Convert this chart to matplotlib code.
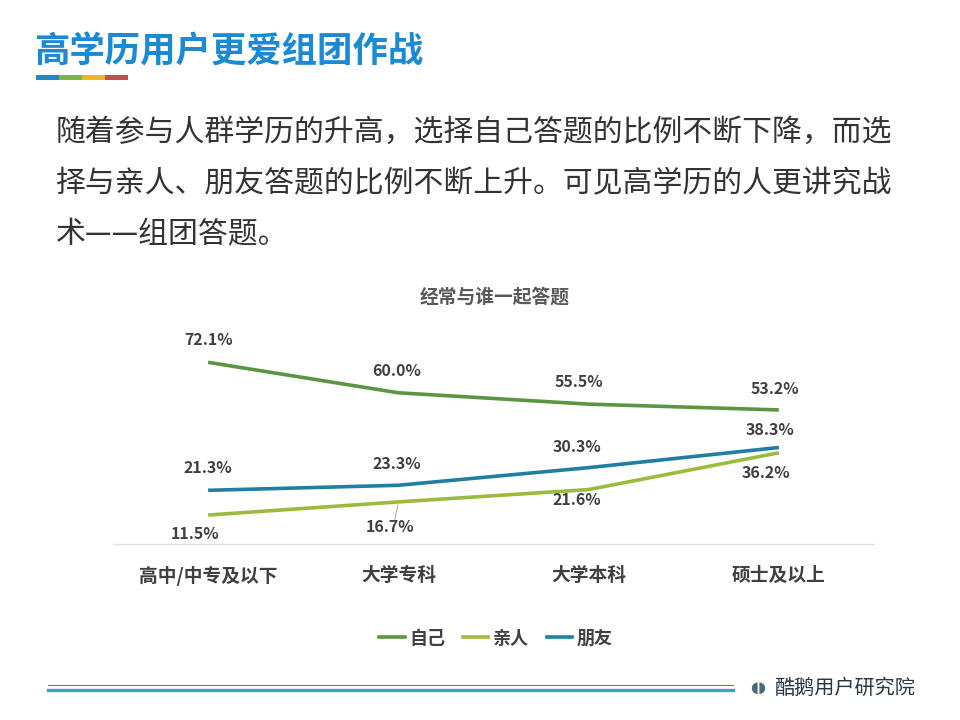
import matplotlib.pyplot as plt
from matplotlib.patches import Rectangle
from matplotlib.lines import Line2D

plt.rcParams['font.family'] = ['Noto Sans CJK SC', 'DejaVu Sans']

# data
categories = ['高中/中专及以下', '大学专科', '大学本科', '硕士及以上']
self_vals = [72.1, 60.0, 55.5, 53.2]
family_vals = [11.5, 16.7, 21.6, 36.2]
friend_vals = [21.3, 23.3, 30.3, 38.3]
series_names = ['自己', '亲人', '朋友']

title = '高学历用户更爱组团作战'
body_lines = ['随着参与人群学历的升高，选择自己答题的比例不断下降，而选',
              '择与亲人、朋友答题的比例不断上升。可见高学历的人更讲究战',
              '术——组团答题。']
chart_title = '经常与谁一起答题'
brand = '酷鹅用户研究院'

colors = ['#5a9641', '#9cbb3c', '#1f7ea2']
label_color = '#404040'

W, H = 960, 720
fig = plt.figure(figsize=(W / 100, H / 100), dpi=100)
fig.patch.set_facecolor('white')


def fx(px):
    return px / W


def fy(py):
    return 1 - py / H


# header
fig.text(fx(34), fy(52), title, fontsize=25.5, fontweight='black', color='#1a8ad4',
         va='center', ha='left')
bar_cols = ['#1f88c8', '#7ab648', '#f0b323', '#c0504d']
for i, c in enumerate(bar_cols):
    fig.patches.append(Rectangle((fx(36 + i * 23), fy(80)), fx(23), 5 / H,
                                 transform=fig.transFigure, color=c, lw=0))

# body text
for i, line in enumerate(body_lines):
    fig.text(fx(56), fy(132 + i * 51.5), line, fontsize=21.5, color='#333333',
             va='center', ha='left')

# chart
px_per_unit = 2.52
y_top = 80
ax_left, ax_right = 113, 874
zero_py = 544
ax = fig.add_axes([fx(ax_left), fy(zero_py), fx(ax_right - ax_left),
                   y_top * px_per_unit / H])
x = list(range(len(categories)))
all_series = [self_vals, family_vals, friend_vals]
for vals, name, c in zip(all_series, series_names, colors):
    ax.plot(x, vals, color=c, lw=2.6, label=name, solid_capstyle='butt')

ax.set_xlim(-0.5, len(categories) - 0.5)
ax.set_ylim(0, y_top)
for s in ['top', 'left', 'right']:
    ax.spines[s].set_visible(False)
ax.spines['bottom'].set_color('#e0e0e0')
ax.spines['bottom'].set_linewidth(1)
ax.set_yticks([])
ax.set_xticks(x)
ax.set_xticklabels(categories, fontsize=13.5, fontweight='bold', color=label_color)
ax.tick_params(axis='x', length=0, pad=16)

# data labels (offsets in pixels)
offsets = [
    [(0, 22), (-2, 22), (-10, 22), (-4, 21)],
    [(-13, -19), (-8, -25), (-12, -10), (-13, -20)],
    [(0, 22), (-2, 21), (-12, 21), (-9, 17)],
]
for vals, offs in zip(all_series, offsets):
    for xi, v, (dx, dy) in zip(x, vals, offs):
        ax.annotate(f'{v:.1f}%', (xi, v), xytext=(dx * 0.72, dy * 0.72),
                    textcoords='offset points', ha='center', va='center',
                    fontsize=11.5, fontweight='bold', color=label_color)
# leader line for 16.7%
ax.annotate('', (1, family_vals[1]), xytext=(-3, -15), textcoords='offset points',
            arrowprops=dict(arrowstyle='-', color='#a6a6a6', lw=0.7))

fig.text(fx(495), fy(297), chart_title, fontsize=13.5, fontweight='bold',
         color='#595959', ha='center', va='center')

handles = [Line2D([], [], color=c, lw=2.6) for c in colors]
leg = fig.legend(handles, series_names, loc='center', bbox_to_anchor=(fx(496), fy(638)),
                 ncol=3, frameon=False, handlelength=1.4, handletextpad=0.25,
                 columnspacing=1.0, prop={'size': 13, 'weight': 'bold'})
for t in leg.get_texts():
    t.set_color(label_color)

# footer
fig.add_artist(Line2D([fx(48), fx(733)], [fy(685), fy(685)], color='#3f8aa6', lw=0.8))
fig.add_artist(Line2D([fx(48), fx(733)], [fy(690), fy(690)], color='#3aa2c4', lw=2.4))
fig.text(fx(758), fy(688), '◖◗', fontsize=11, color='#4a6a7a', ha='center', va='center',
         family=['DejaVu Sans'])
fig.text(fx(774), fy(688), brand, fontsize=14.5, style='italic', fontweight='medium',
         color='#263746', ha='left', va='center')

fig.savefig('out.png', dpi=100)
